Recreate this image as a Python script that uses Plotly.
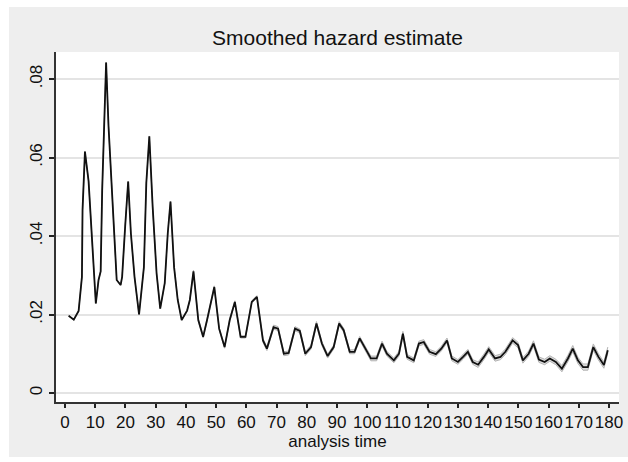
import plotly.graph_objects as go

# analysis time and smoothed hazard
t = [1.2, 2.9, 4.5, 5.6, 5.8, 6.6, 7.8, 8.9, 10.2, 11.1, 11.8, 12.3, 12.8, 13.6,
     14.4, 15.2, 16.1, 17.1, 18.4, 18.9, 19.9, 20.9, 21.8, 23.0, 24.5, 25.4, 26.1,
     26.9, 27.9, 29.0, 30.3, 31.5, 33.0, 34.0, 34.9, 36.1, 37.3, 38.6, 40.4, 41.3,
     42.5, 44.1, 45.7, 47.0, 49.4, 51.0, 52.8, 54.5, 56.2, 58.1, 59.7, 61.8, 63.5,
     65.5, 66.8, 69.0, 70.5, 72.4, 74.0, 76.1, 77.7, 79.5, 81.4, 83.2, 85.0, 86.9,
     88.9, 90.7, 92.2, 94.2, 95.8, 97.5, 99.1, 101.2, 103.1, 104.9, 106.5, 108.8,
     110.5, 111.8, 113.2, 115.4, 117.1, 118.7, 120.6, 122.7, 124.5, 126.4, 128.0,
     130.0, 131.7, 133.3, 134.9, 136.7, 138.6, 140.2, 142.3, 144.1, 145.7, 148.1,
     149.9, 151.5, 153.4, 155.0, 156.8, 158.7, 160.4, 162.4, 164.4, 166.4, 168.0,
     169.7, 171.4, 173.0, 174.8, 176.5, 178.3, 179.6]
hazard = [0.0197, 0.0187, 0.0209, 0.0296, 0.0466, 0.0615, 0.0540, 0.0407, 0.0228,
          0.0288, 0.0310, 0.0517, 0.0645, 0.0842, 0.0680, 0.0560, 0.0424, 0.0288,
          0.0275, 0.0296, 0.0424, 0.0539, 0.0407, 0.0296, 0.0200, 0.0262, 0.0320,
          0.0535, 0.0654, 0.0475, 0.0305, 0.0215, 0.0280, 0.0407, 0.0488, 0.0320,
          0.0237, 0.0186, 0.0210, 0.0237, 0.0310, 0.0186, 0.0143, 0.0186, 0.0270,
          0.0164, 0.0117, 0.0186, 0.0232, 0.0143, 0.0143, 0.0232, 0.0245, 0.0134,
          0.0113, 0.0168, 0.0164, 0.0100, 0.0102, 0.0164, 0.0158, 0.0100, 0.0117,
          0.0177, 0.0126, 0.0094, 0.0117, 0.0177, 0.0160, 0.0105, 0.0105, 0.0139,
          0.0117, 0.0088, 0.0088, 0.0126, 0.0100, 0.0083, 0.0100, 0.0151, 0.0092,
          0.0083, 0.0126, 0.0130, 0.0105, 0.0099, 0.0113, 0.0134, 0.0088, 0.0079,
          0.0092, 0.0105, 0.0079, 0.0072, 0.0092, 0.0111, 0.0088, 0.0092, 0.0105,
          0.0134, 0.0122, 0.0083, 0.0100, 0.0126, 0.0085, 0.0079, 0.0088, 0.0079,
          0.0062, 0.0088, 0.0113, 0.0083, 0.0066, 0.0066, 0.0117, 0.0092, 0.0071,
          0.0109]
# half-width of the confidence band
ci_half = [0.0001] * 40 + [0.0003] * 13 + [0.0005] * 20 + [0.0006] * 20 + [0.0007] * 15 + [0.0008] * 12

x_ticks = list(range(0, 181, 10))
y_ticks = [0, 0.02, 0.04, 0.06, 0.08]
y_ticktext = ["0", ".02", ".04", ".06", ".08"]

lower = [h - c for h, c in zip(hazard, ci_half)]
upper = [h + c for h, c in zip(hazard, ci_half)]

fig = go.Figure()
fig.add_trace(go.Scatter(x=t, y=lower, mode="lines",
                         line=dict(color="#b4b4b4", width=1), hoverinfo="skip",
                         showlegend=False))
fig.add_trace(go.Scatter(x=t, y=upper, mode="lines", fill="tonexty",
                         fillcolor="#dcdcdc",
                         line=dict(color="#b4b4b4", width=1), hoverinfo="skip",
                         showlegend=False))
fig.add_trace(go.Scatter(x=t, y=hazard, mode="lines",
                         line=dict(color="#111111", width=1.8), showlegend=False))

font_family = "Liberation Sans, Arial, sans-serif"

fig.update_layout(
    width=628, height=462,
    margin=dict(l=56, r=9, t=52, b=60, autoexpand=False),
    paper_bgcolor="white",
    plot_bgcolor="white",
    font=dict(family=font_family, size=17, color="#111111"),
    title=dict(text="Smoothed hazard estimate", x=0.5375, xanchor="center",
               y=0.918, yanchor="middle",
               font=dict(family=font_family, size=21, color="#111111")),
    shapes=[
        dict(type="rect", xref="paper", yref="paper", x0=-0.0835, x1=1.02,
             y0=-0.157, y1=1.1286, fillcolor="#eeeeee", line=dict(width=0),
             layer="below"),
        dict(type="rect", xref="paper", yref="paper", x0=0, x1=1,
             y0=0, y1=1, fillcolor="white", line=dict(width=0), layer="below"),
    ],
    xaxis=dict(range=[-2.98, 183.3], tickmode="array", tickvals=x_ticks,
               tickangle=0, automargin=False,
               ticks="outside", ticklen=4, tickwidth=1.5, tickcolor="#222222",
               showline=True, linecolor="#333333", linewidth=1.8,
               showgrid=False, zeroline=False,
               tickfont=dict(size=17, color="#111111"),
               title=dict(text="analysis time", standoff=0,
                          font=dict(size=17, color="#111111"))),
    yaxis=dict(range=[-0.0023, 0.0869], tickmode="array", tickvals=y_ticks,
               ticktext=y_ticktext, tickangle=-90, automargin=False,
               ticks="outside", ticklen=5, tickwidth=1.5, tickcolor="#222222",
               showline=True, linecolor="#333333", linewidth=1.8,
               showgrid=True, gridcolor="#e4e4e4", gridwidth=1.5,
               zeroline=False, tickfont=dict(size=17, color="#111111")),
)

fig.write_html("out.html")
